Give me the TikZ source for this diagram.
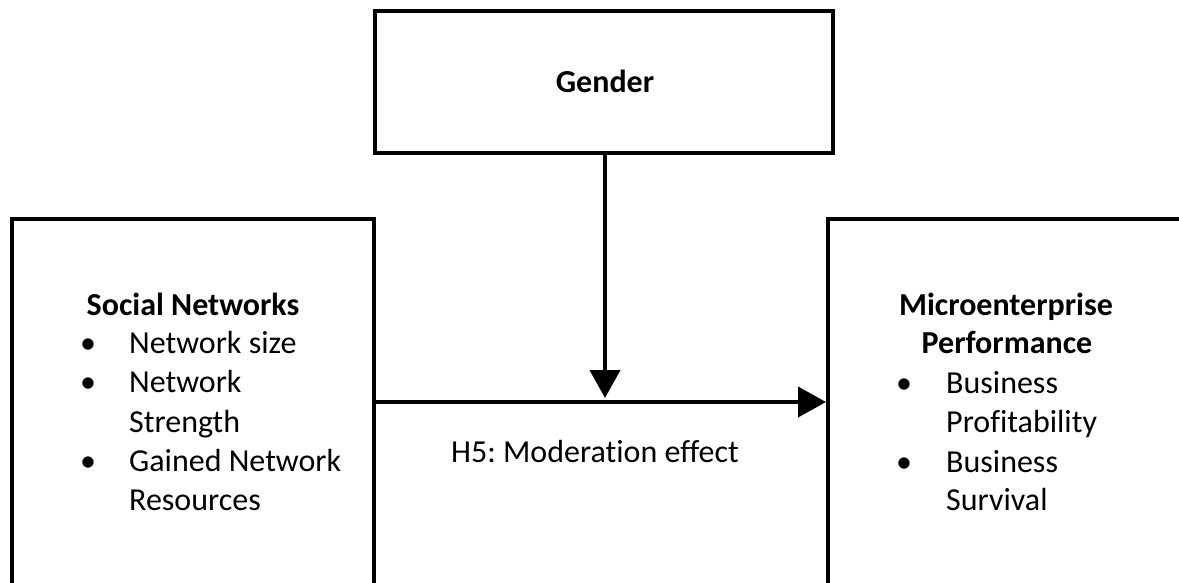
\documentclass[tikz,border=0pt]{standalone}
\usepackage{fontspec}
\setmainfont{Carlito}[Ligatures={NoCommon}]
\usetikzlibrary{arrows.meta}
\frenchspacing
\tikzset{
  boxnode/.style={draw=black, line width=4pt, rectangle, inner sep=0pt, fill=none},
  txt/.style={inner sep=0pt, font=\fontsize{32pt}{39pt}\selectfont},
  bold/.style={txt, font=\fontsize{32pt}{39pt}\selectfont\bfseries},
  conn/.style={line width=4pt, -{Triangle[length=28pt,width=30pt]}}
}
\begin{document}
\begin{tikzpicture}[x=1pt,y=-1pt]
\useasboundingbox (0,0) rectangle (1179,582);
\clip (0,0) rectangle (1179,582);
\fill[white] (0,0) rectangle (1179,582);
% boxes
\node[boxnode, minimum width=458pt, minimum height=142pt] (gender) at (604,82) {};
\node[boxnode, minimum width=362pt, minimum height=431pt] (sn) at (193,434.5) {};
\node[boxnode, minimum width=422pt, minimum height=431pt] (mp) at (1039,434.5) {};
% texts
\node[bold, anchor=base] (tg) at (605,92) {Gender};
\node[bold, anchor=base] (tsn) at (193,315) {Social Networks};
\node[txt, anchor=base west] (b1) at (80,353) {•};
\node[txt, anchor=base west] (t1) at (129,353) {Network size};
\node[txt, anchor=base west] (b2) at (80,392) {•};
\node[txt, anchor=base west] (t2) at (129,392) {Network};
\node[txt, anchor=base west] (t3) at (129,432) {Strength};
\node[txt, anchor=base west] (b3) at (80,471) {•};
\node[txt, anchor=base west] (t4) at (129,471) {Gained Network};
\node[txt, anchor=base west] (t5) at (129,510) {Resources};
\node[bold, anchor=base] (tmp1) at (1006,315) {Microenterprise};
\node[bold, anchor=base] (tmp2) at (1007,353) {Performance};
\node[txt, anchor=base west] (c1) at (896,393) {•};
\node[txt, anchor=base west] (u1) at (946,393) {Business};
\node[txt, anchor=base west] (u2) at (946,432) {Profitability};
\node[txt, anchor=base west] (c2) at (896,472) {•};
\node[txt, anchor=base west] (u3) at (946,472) {Business};
\node[txt, anchor=base west] (u4) at (946,510) {Survival};
\node[txt, anchor=base] (h5) at (595,462) {H5: Moderation effect};
% connectors
\coordinate (m) at (605,402);
\coordinate (mt) at (605,398);
\draw[conn] (sn.east |- m) -- (mp.west |- m);
\draw[conn] (gender.south -| mt) -- (mt);
\end{tikzpicture}
\end{document}
